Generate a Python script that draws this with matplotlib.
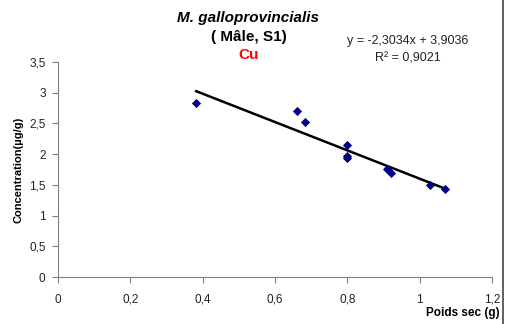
import numpy as np
import matplotlib.pyplot as plt

# poids sec (g) et concentration en Cu (µg/g)
poids = [0.382, 0.66, 0.682, 0.798, 0.798, 0.798, 0.91, 0.92, 1.03, 1.07]
conc = [2.83, 2.70, 2.52, 2.14, 1.97, 1.94, 1.75, 1.69, 1.50, 1.44]
pente = -2.3034
origine = 3.9036
r2 = 0.9021

xticks = [0, 0.2, 0.4, 0.6, 0.8, 1, 1.2]
yticks = [0, 0.5, 1, 1.5, 2, 2.5, 3, 3.5]

plt.rcParams['font.family'] = ['Liberation Sans', 'DejaVu Sans']

fig = plt.figure(figsize=(5.05, 3.24), dpi=100)
ax = fig.add_axes([0.115, 0.145, 0.859, 0.664])

ax.scatter(poids, conc, marker='D', s=22, color='#000080', zorder=3, linewidths=0)
xl = np.array([min(poids), max(poids)])
ax.plot(xl, pente * xl + origine, color='black', lw=1.8, zorder=2)

ax.set_xlim(0, 1.2)
ax.set_ylim(0, 3.5)
ax.set_xticks(xticks)
ax.set_yticks(yticks)
fmt = lambda v: ('%g' % v).replace('.', ',')
ax.set_xticklabels([fmt(v) for v in xticks])
ax.set_yticklabels([fmt(v) for v in yticks])
ax.tick_params(labelsize=8.5, colors='#808080', labelcolor='#222222', length=4, pad=5)
ax.tick_params(axis='x', pad=8)
for s in ['top', 'right']:
    ax.spines[s].set_visible(False)
for s in ['left', 'bottom']:
    ax.spines[s].set_color('#808080')

ax.set_ylabel('Concentration(µg/g)', fontsize=8, fontweight='bold', labelpad=4)
fig.text(0.99, 0.035, 'Poids sec (g)', ha='right', va='center', fontsize=8.5, fontweight='bold')

fig.text(0.492, 0.944, 'M. galloprovincialis', ha='center', va='center',
         fontsize=11, fontweight='bold', style='italic')
fig.text(0.492, 0.886, '( Mâle, S1)', ha='center', va='center', fontsize=11, fontweight='bold')
fig.text(0.492, 0.83, 'Cu', ha='center', va='center', fontsize=11, fontweight='bold', color='red')

eq = 'y = %sx + %s' % (fmt(pente), fmt(origine))
fig.text(0.808, 0.872, eq, ha='center', va='center', fontsize=9, color='#222222')
fig.text(0.808, 0.819, 'R² = ' + fmt(r2), ha='center', va='center', fontsize=9, color='#222222')

fig.add_artist(plt.Line2D([0.996, 0.996], [0, 1], transform=fig.transFigure, color='#444444', lw=1.2))

fig.savefig('out.png', dpi=100)
